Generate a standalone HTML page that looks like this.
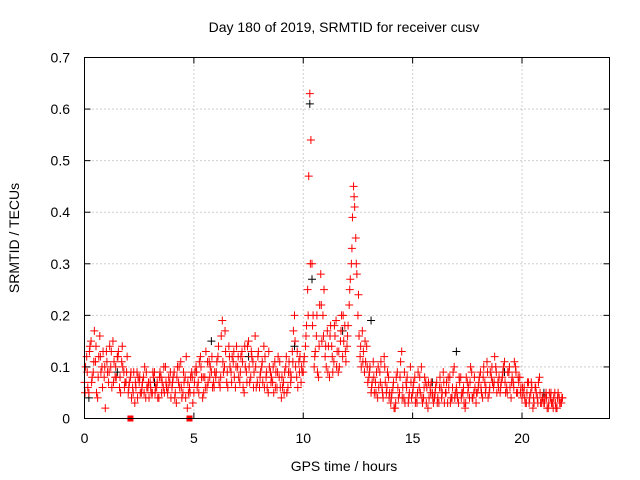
<!DOCTYPE html>
<html><head><meta charset="utf-8"><style>
body{margin:0;background:#fff}
svg{display:block;font-family:"Liberation Sans",sans-serif}
</style></head><body>
<svg id="chart" width="640" height="480" viewBox="0 0 640 480">
<rect width="640" height="480" fill="#fff"/>
<g id="grid"></g>
<g id="marks"></g>
<rect x="84.5" y="57.5" width="525" height="361" fill="none" stroke="#000"/>
<g id="ticks" font-size="14" fill="#000"></g>
<text x="344" y="32" text-anchor="middle" font-size="14">Day 180 of 2019, SRMTID for receiver cusv</text>
<text x="344" y="471" text-anchor="middle" font-size="14">GPS time / hours</text>
<text transform="translate(19,238) rotate(-90)" text-anchor="middle" font-size="14">SRMTID / TECUs</text>
</svg>
<script>
const xTicks=[0,5,10,15,20];
const yTicks=[0,0.1,0.2,0.3,0.4,0.5,0.6,0.7];
const yTickLabels=["0","0.1","0.2","0.3","0.4","0.5","0.6","0.7"];
const redA=[.07,.12,.05,.15,.09,.11,.04,.16,.10,.08,
.13,.07,.10,.15,.08,.12,.06,.11,.09,.07,
.05,.08,.06,.03,.09,.07,.05,.08,.04,.06,
.07,.05,.09,.06,.04,.08,.06,.10,.05,.07,
.06,.09,.03,.07,.11,.05,.08,.02,.06,.09,
.05,.10,.07,.12,.04,.08,.06,.11,.09,.07,
.08,.12,.06,.19,.10,.07,.14,.09,.11,.06,
.10,.07,.13,.05,.09,.15,.08,.11,.16,.07,
.06,.10,.14,.08,.05,.09,.07,.11,.06,.08,
.04,.07,.10,.06,.09,.13,.20,.08,.11,.07,
.09,.14,.25,.63,.30,.10,.16,.08,.28,.20,
.12,.17,.08,.14,.11,.19,.09,.15,.12,.18,
.14,.22,.30,.45,.35,.20,.12,.17,.09,.14,
.08,.05,.11,.07,.04,.09,.06,.12,.05,.08,
.03,.06,.02,.09,.05,.13,.04,.07,.03,.10,
.05,.08,.03,.06,.10,.04,.07,.02,.06,.05,
.04,.07,.03,.06,.09,.05,.03,.08,.04,.10,
.06,.03,.08,.05,.02,.07,.04,.09,.05,.03,
.06,.09,.04,.07,.11,.05,.08,.06,.10,.07,
.05,.08,.11,.06,.09,.04,.07,.10,.05,.08,
.04,.06,.03,.07,.05,.02,.06,.04,.08,.03,
.03,.05,.02,.04,.03,.05,.02,.04,.03];
const redB=[.10,.06,.14,.08,.17,.05,.12,.09,.13,.02,
.09,.14,.06,.11,.08,.13,.05,.10,.07,.12,
.07,.04,.09,.06,.08,.05,.07,.10,.06,.04,
.05,.08,.06,.04,.09,.07,.05,.06,.08,.04,
.08,.05,.10,.06,.04,.07,.12,.05,.08,.03,
.09,.06,.11,.08,.05,.13,.07,.10,.06,.09,
.11,.07,.16,.09,.13,.06,.10,.12,.08,.14,
.08,.12,.06,.10,.14,.07,.12,.09,.06,.13,
.09,.07,.12,.06,.10,.08,.05,.09,.12,.06,
.06,.09,.05,.11,.08,.17,.10,.06,.12,.09,
.12,.18,.47,.54,.20,.13,.09,.22,.15,.25,
.10,.14,.18,.09,.16,.13,.10,.20,.15,.11,
.18,.27,.39,.41,.28,.16,.10,.13,.11,.07,
.10,.07,.05,.09,.06,.11,.04,.07,.09,.05,
.05,.02,.08,.04,.11,.06,.03,.08,.05,.04,
.07,.04,.09,.05,.03,.08,.06,.04,.07,.03,
.06,.04,.08,.05,.03,.07,.06,.04,.09,.05,
.04,.07,.05,.03,.08,.06,.10,.04,.06,.05,
.08,.05,.10,.06,.04,.09,.07,.12,.05,.08,
.07,.10,.05,.09,.06,.08,.11,.05,.07,.06,
.05,.03,.07,.04,.06,.03,.05,.07,.03,.04,
.04,.02,.05,.03,.04,.02,.05,.03,.04];
const redC=[.05,.09,.13,.07,.11,.14,.08,.12,.06,.10,
.11,.09,.13,.07,.10,.12,.08,.14,.06,.09,
.06,.09,.05,.07,.04,.08,.06,.05,.09,.07,
.06,.09,.05,.07,.08,.05,.10,.07,.06,.09,
.07,.04,.08,.10,.06,.09,.04,.07,.05,.08,
.07,.09,.05,.10,.08,.06,.11,.08,.12,.06,
.09,.14,.08,.11,.17,.09,.12,.07,.13,.10,
.12,.09,.11,.14,.07,.10,.13,.06,.10,.12,
.08,.11,.06,.09,.13,.07,.10,.06,.09,.11,
.08,.05,.12,.09,.07,.11,.15,.13,.09,.10,
.11,.16,.20,.30,.18,.12,.20,.14,.22,.16,
.14,.09,.16,.12,.18,.10,.13,.17,.20,.13,
.16,.25,.33,.43,.30,.24,.14,.11,.15,.10,
.09,.06,.08,.05,.10,.07,.05,.10,.06,.04,
.04,.07,.03,.06,.08,.04,.09,.06,.04,.07,
.06,.03,.05,.08,.04,.06,.03,.07,.05,.04,
.05,.03,.06,.04,.07,.05,.08,.03,.06,.04,
.05,.08,.04,.06,.03,.05,.07,.04,.08,.05,
.07,.06,.08,.05,.09,.06,.10,.07,.09,.06,
.06,.09,.07,.05,.10,.07,.06,.09,.08,.05,
.06,.04,.05,.03,.07,.04,.06,.03,.05,.04,
.03,.04,.03,.05,.02,.03,.04,.03,.04];
const blackT=[0.2,1.5,3.2,5.8,7.5,9.6,10.3,10.4,11.8,13.1,15.9,17.0,19.2,21.0];
const blackV=[.04,.09,.07,.15,.12,.14,.61,.27,.17,.19,.07,.13,.09,.05];
const zeroT=[2.1,4.8];

const X0=84.5,X1=609.5,Y0=418.5,Y1=57.5,XMAX=24,YMAX=0.7;
const sx=t=>X0+(X1-X0)*t/XMAX;
const sy=v=>Y0-(Y0-Y1)*v/YMAX;
const NS="http://www.w3.org/2000/svg";
function mk(tag,attrs,parent){const e=document.createElementNS(NS,tag);for(const k in attrs)e.setAttribute(k,attrs[k]);parent.appendChild(e);return e;}
const grid=document.getElementById('grid'),ticks=document.getElementById('ticks'),marks=document.getElementById('marks');
xTicks.forEach(t=>{const x=sx(t);
 if(t>0){const g=mk('line',{x1:x,x2:x,y1:Y1,y2:Y0,stroke:'#a0a0a0','stroke-dasharray':'1,3'},grid);
 }
 const l=mk('line',{x1:x,x2:x,y1:Y0,y2:Y0-6,stroke:'#000'},ticks);
 
 const l2=mk('line',{x1:x,x2:x,y1:Y1,y2:Y1+6,stroke:'#000'},ticks);
 
 const tx=mk('text',{x:x,y:443,'text-anchor':'middle'},ticks);tx.textContent=String(t);
 });
yTicks.forEach((v,i)=>{const y=sy(v);
 if(v>0&&v<YMAX){const g=mk('line',{x1:X0,x2:X1,y1:y,y2:y,stroke:'#a0a0a0','stroke-dasharray':'1,3'},grid);
 }
 const l=mk('line',{x1:X0,x2:X0+6,y1:y,y2:y,stroke:'#000'},ticks);
 
 const l2=mk('line',{x1:X1,x2:X1-6,y1:y,y2:y,stroke:'#000'},ticks);
 
 const tx=mk('text',{x:70,y:y+5,'text-anchor':'end'},ticks);tx.textContent=yTickLabels[i];
 });
function plus(t,v,c,name){const x=sx(t),y=sy(v);
 const p=mk('path',{d:`M${x-4},${y}h8M${x},${y-4}v8`,stroke:c,'stroke-width':1,fill:'none'},marks);
 }
blackT.forEach((t,i)=>plus(t,blackV[i],'#000','point-black'));
redA.forEach((v,i)=>plus(i*0.1,v,'#ff0000','point-red'));
redB.forEach((v,i)=>plus(i*0.1+0.05,v,'#ff0000','point-red'));
redC.forEach((v,i)=>plus(i*0.1+0.025,v,'#ff0000','point-red'));
zeroT.forEach(t=>{const r=mk('rect',{x:sx(t)-3,y:Y0-3,width:6,height:6,fill:'#ff0000'},marks);
 });
</script>
</body></html>
